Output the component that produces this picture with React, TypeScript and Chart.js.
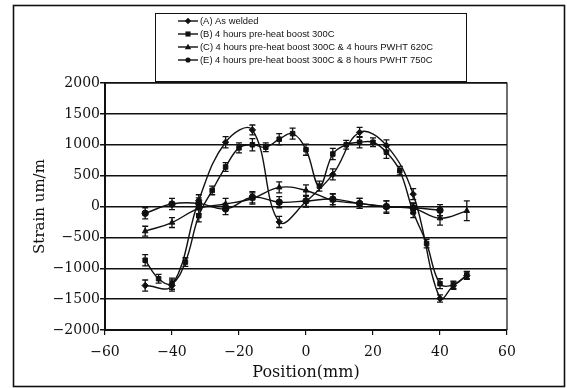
import React, { useEffect, useRef } from "react";
import { Chart, registerables } from "chart.js";

Chart.register(...registerables);

// ---- data ----
const legendLabels = [
  "(A) As welded",
  "(B) 4 hours pre-heat boost 300C",
  "(C) 4 hours pre-heat boost 300C & 4 hours PWHT 620C",
  "(E) 4 hours pre-heat boost 300C & 8 hours PWHT 750C",
];

const xTicks = [-60, -40, -20, 0, 20, 40, 60];
const yTicks = [-2000, -1500, -1000, -500, 0, 500, 1000, 1500, 2000];

const posA = [-48, -40, -32, -24, -16, -8, 0, 8, 16, 24, 32, 40, 44, 48];
const strainA = [-1280, -1280, 100, 1040, 1240, -250, 80, 520, 1200, 990, 200, -1490, -1280, -1120];
const errA = [90, 90, 90, 90, 80, 90, 90, 90, 80, 90, 90, 60, 60, 60];

const posB = [-48, -44, -40, -36, -32, -28, -24, -20, -16, -12, -8, -4, 0, 4, 8, 12, 16, 20, 24, 28, 32, 36, 40, 44, 48];
const strainB = [-870, -1170, -1250, -900, -150, 260, 640, 950, 1000, 960, 1090, 1180, 920, 330, 850, 1000, 1040, 1040, 880, 580, -90, -600, -1250, -1270, -1110];
const errB = [90, 70, 90, 70, 100, 70, 70, 80, 100, 70, 90, 90, 90, 80, 90, 70, 90, 70, 100, 70, 90, 70, 80, 60, 60];

const posC = [-48, -40, -32, -24, -16, -8, 0, 8, 16, 24, 32, 40, 48];
const strainC = [-400, -260, -30, 40, 130, 310, 260, 100, 50, -10, -30, -190, -70];
const errC = [80, 80, 90, 90, 90, 90, 90, 100, 80, 100, 80, 110, 160];

const posE = [-48, -40, -32, -24, -16, -8, 0, 8, 16, 24, 32, 40];
const strainE = [-110, 40, 50, -40, 150, 70, 90, 120, 50, 0, -20, -60];
const errE = [90, 90, 90, 90, 90, 90, 90, 90, 80, 90, 80, 90];

const markerStyles = ["rectRot", "rect", "triangle", "circle"];

const seriesPos = [posA, posB, posC, posE];
const seriesVal = [strainA, strainB, strainC, strainE];
const seriesErr = [errA, errB, errC, errE];

const SERIF = "'DejaVu Serif', serif";
const SANS = "'Liberation Sans', Arial, sans-serif";

const fmt = (v: number) => (v < 0 ? "\u2212" + Math.abs(v) : String(v));

function drawMarker(ctx: CanvasRenderingContext2D, style: string, x: number, y: number, r: number) {
  ctx.beginPath();
  if (style === "rectRot") {
    ctx.moveTo(x, y - r);
    ctx.lineTo(x + r, y);
    ctx.lineTo(x, y + r);
    ctx.lineTo(x - r, y);
    ctx.closePath();
  } else if (style === "rect") {
    ctx.rect(x - r * 0.8, y - r * 0.8, r * 1.6, r * 1.6);
  } else if (style === "triangle") {
    ctx.moveTo(x, y - r);
    ctx.lineTo(x + r, y + r * 0.7);
    ctx.lineTo(x - r, y + r * 0.7);
    ctx.closePath();
  } else {
    ctx.arc(x, y, r * 0.8, 0, Math.PI * 2);
  }
  ctx.fill();
}

export default function App() {
  const ref = useRef<HTMLCanvasElement | null>(null);

  useEffect(() => {
    document.body.style.margin = "0";
    const canvas = ref.current;
    if (!canvas) return;

    const datasets = seriesPos.map((pos, s) => ({
      label: legendLabels[s],
      data: pos.map((x, i) => ({ x, y: seriesVal[s][i] })),
      showLine: true,
      borderColor: "#111",
      backgroundColor: "#111",
      borderWidth: 1.4,
      pointStyle: markerStyles[s],
      pointRadius: 3.2,
      pointBorderWidth: 1,
      tension: 0.4,
    }));

    const errorBars = {
      id: "errorBars",
      afterDatasetsDraw(chart: any) {
        const ctx = chart.ctx;
        const xs = chart.scales.x;
        const ys = chart.scales.y;
        ctx.save();
        ctx.strokeStyle = "#111";
        ctx.lineWidth = 1.3;
        seriesPos.forEach((pos, s) => {
          pos.forEach((x, i) => {
            const px = xs.getPixelForValue(x);
            const y1 = ys.getPixelForValue(seriesVal[s][i] + seriesErr[s][i]);
            const y2 = ys.getPixelForValue(seriesVal[s][i] - seriesErr[s][i]);
            ctx.beginPath();
            ctx.moveTo(px, y1);
            ctx.lineTo(px, y2);
            ctx.moveTo(px - 3, y1);
            ctx.lineTo(px + 3, y1);
            ctx.moveTo(px - 3, y2);
            ctx.lineTo(px + 3, y2);
            ctx.stroke();
          });
        });
        ctx.restore();
      },
    };

    const frames = {
      id: "frames",
      afterDraw(chart: any) {
        const ctx = chart.ctx;
        const a = chart.chartArea;
        ctx.save();
        ctx.strokeStyle = "#111";
        ctx.lineWidth = 1.2;
        ctx.beginPath();
        ctx.moveTo(a.left, a.top);
        ctx.lineTo(a.right, a.top);
        ctx.lineTo(a.right, a.bottom);
        ctx.stroke();
        ctx.lineWidth = 1.6;
        ctx.strokeRect(13.5, 5.5, 551, 381);
        ctx.lineWidth = 1;
        ctx.fillStyle = "#fff";
        ctx.fillRect(155.5, 13.5, 311, 68);
        ctx.strokeRect(155.5, 13.5, 311, 68);
        const rows = [21, 34, 47, 60];
        ctx.font = "9.4px " + SANS;
        ctx.textBaseline = "middle";
        legendLabels.forEach((lab, i) => {
          const y = rows[i];
          ctx.strokeStyle = "#111";
          ctx.lineWidth = 1.4;
          ctx.beginPath();
          ctx.moveTo(178, y);
          ctx.lineTo(198, y);
          ctx.stroke();
          ctx.fillStyle = "#111";
          drawMarker(ctx, markerStyles[i], 188, y, 3.2);
          ctx.fillText(lab, 200, y + 0.5);
        });
        ctx.restore();
      },
    };

    const chart = new Chart(canvas, {
      type: "scatter",
      data: { datasets },
      options: {
        animation: false,
        responsive: false,
        maintainAspectRatio: false,
        layout: { padding: { left: 0, right: 60, top: 83, bottom: 0 } },
        plugins: { legend: { display: false }, tooltip: { enabled: false } },
        scales: {
          x: {
            type: "linear",
            min: -60,
            max: 60,
            afterBuildTicks: (scale: any) => {
              scale.ticks = xTicks.map((v) => ({ value: v }));
            },
            afterFit: (scale: any) => {
              scale.height = 58;
            },
            grid: { drawOnChartArea: false, drawTicks: true, tickLength: 5, color: "#111", lineWidth: 1.2 },
            border: { display: true, color: "#111", width: 2 },
            ticks: { color: "#111", font: { family: SERIF, size: 14 }, padding: 9, maxRotation: 0, callback: (v: any) => fmt(Number(v)) },
            title: {
              display: true,
              text: "Position(mm)",
              color: "#111",
              font: { family: SERIF, size: 16 },
              padding: { top: 0, bottom: 6 },
            },
          },
          y: {
            type: "linear",
            min: -2000,
            max: 2000,
            afterBuildTicks: (scale: any) => {
              scale.ticks = yTicks.map((v) => ({ value: v }));
            },
            afterFit: (scale: any) => {
              scale.width = 105;
            },
            grid: { drawOnChartArea: true, drawTicks: true, tickLength: 5, color: "#111", lineWidth: 1.5 },
            border: { display: true, color: "#111", width: 2 },
            ticks: { color: "#111", font: { family: SERIF, size: 14 }, padding: 0, callback: (v: any) => fmt(Number(v)) },
            title: {
              display: true,
              text: "Strain um/m",
              color: "#111",
              font: { family: SERIF, size: 15 },
              padding: { top: 31, bottom: 0 },
            },
          },
        },
      },
      plugins: [errorBars, frames],
    } as any);

    return () => chart.destroy();
  }, []);

  return (
    <div style={{ width: 567, height: 388, background: "#fff" }}>
      <canvas ref={ref} width={567} height={388} style={{ display: "block", width: 567, height: 388 }} />
    </div>
  );
}
